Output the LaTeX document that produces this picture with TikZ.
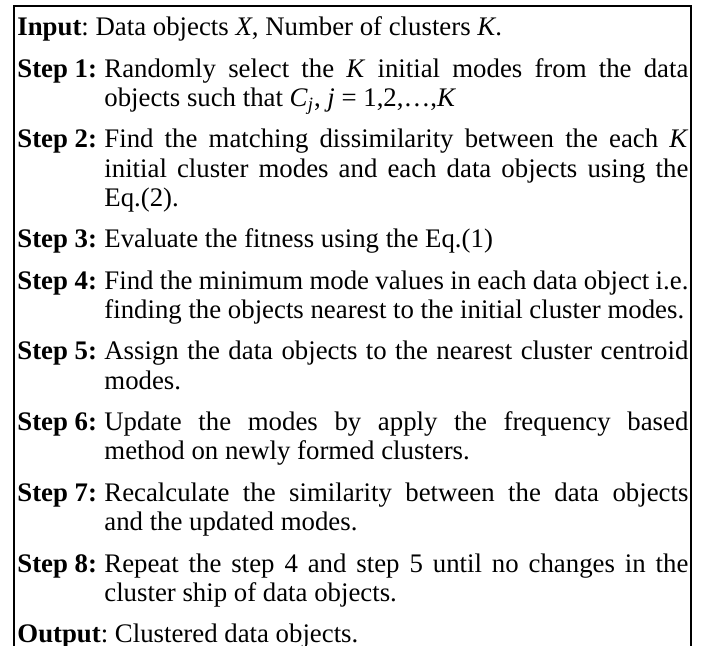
\documentclass[tikz,border=0pt]{standalone}
\usepackage{fontspec}
\setmainfont{Liberation Serif}
\usetikzlibrary{positioning}

\newcommand{\steplabel}[1]{\makebox[43.5pt][l]{\textbf{Step #1:}}}

\tikzset{
  boxtext/.style = {inner sep=0pt, text width=335.5pt, align=justify,
    font=\fontsize{13.4pt}{14.6pt}\selectfont,
    execute at begin node={\frenchspacing\hyphenpenalty=10000\noindent\strut},
    execute at end node=\strut},
  steptext/.style = {boxtext,
    execute at begin node={\hangindent=43.5pt\hangafter=1}}
}

\begin{document}
\begin{tikzpicture} [node distance = 5.75pt, x = 1pt, y = 1pt]
\useasboundingbox (0,0) rectangle (350.5,-323);

% open frame, no bottom line
\coordinate (frame_sw) at (6.75,-323);
\coordinate (frame_ne) at (345.25,-3.25);
\coordinate (frame_se) at (345.25,-323);
\draw[line width=1pt] (frame_sw) |- (frame_ne) -- (frame_se);

\node[boxtext, anchor=north west] (input) at (8.5,-7.4) {\textbf{Input}: Data objects \textit{X}, Number of clusters \textit{K}.};
\node[steptext] (step_1) [below = of input] {\steplabel{1}Randomly select the \textit{K} initial modes from the data\linebreak objects such that \textit{C}\textsubscript{\textit{j}}, \textit{j} = 1,2,\ldots,\textit{K}};
\node[steptext] (step_2) [below = of step_1] {\steplabel{2}Find the matching dissimilarity between the each \textit{K}\linebreak initial cluster modes and each data objects using the\linebreak Eq.(2).};
\node[steptext] (step_3) [below = of step_2] {\steplabel{3}Evaluate the fitness using the Eq.(1)};
\node[steptext] (step_4) [below = of step_3] {\steplabel{4}Find the minimum mode values in each data object i.e.\linebreak finding the objects nearest to the initial cluster modes.};
\node[steptext] (step_5) [below = of step_4] {\steplabel{5}Assign the data objects to the nearest cluster centroid\linebreak modes.};
\node[steptext] (step_6) [below = of step_5] {\steplabel{6}Update the modes by apply the frequency based\linebreak method on newly formed clusters.};
\node[steptext] (step_7) [below = of step_6] {\steplabel{7}Recalculate the similarity between the data objects\linebreak and the updated modes.};
\node[steptext] (step_8) [below = of step_7] {\steplabel{8}Repeat the step 4 and step 5 until no changes in the\linebreak cluster ship of data objects.};
\node[boxtext] (output) [below = of step_8] {\textbf{Output}: Clustered data objects.};

\end{tikzpicture}
\end{document}
